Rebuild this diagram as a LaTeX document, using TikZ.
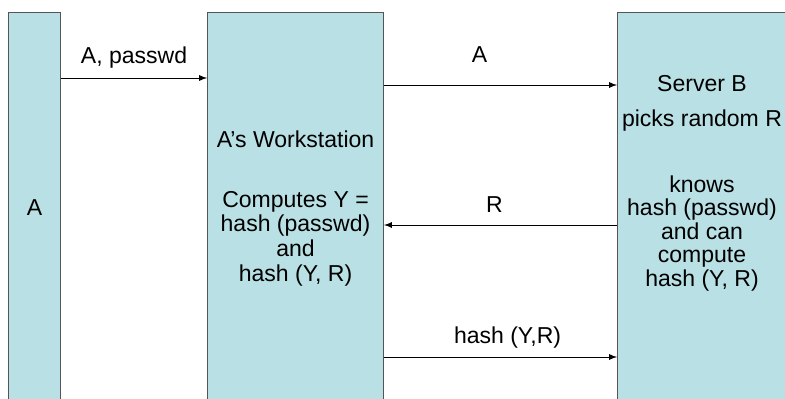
\documentclass[tikz,border=0pt]{standalone}
\usepackage{fontspec}
\setmainfont{Liberation Sans}
\usepackage{tikz}
\usetikzlibrary{arrows, positioning}
\definecolor{lanefill}{RGB}{185, 224, 228}
\definecolor{laneedge}{RGB}{85, 85, 85}

\begin{document}
\begin{tikzpicture}[
    every node/.style={font=\fontsize{13.1}{14.2}\selectfont},
    lane/.style={draw=laneedge, fill=lanefill, line width=0.6pt, inner sep=0pt,
        anchor=north west, minimum height=8.2cm},
    msg/.style={line width=0.55pt, ->, >=latex},
    lbl/.style={anchor=base, inner sep=0pt}
]

\useasboundingbox (0,0) rectangle (15.7,7.96);
\clip (0,0) rectangle (15.7,7.96);

% Columns
\node[lane, minimum width=1.04cm] (a) at (0.16,7.72) {};
\node[lane, minimum width=3.52cm] (w) at (4.14,7.72) {};
\node[lane, minimum width=3.44cm] (b) at (12.34,7.72) {};

% Column texts
\node (atext) at (a.center |- 0,3.8) {A};
\node[align=center] (wtext) at (w.center |- 0,3.79)
    {A’s Workstation\\[0.7cm] Computes Y =\\ hash (passwd)\\ and\\ hash (Y, R)};
\node[align=center, font=\fontsize{13.1}{13.4}\selectfont] (btext) at (14.04,4.30)
    {Server B\\[0.23cm] picks random R\\[0.85cm] knows\\ hash (passwd)\\ and can\\ compute\\ hash (Y, R)};

% Messages
\draw[msg] (a.east |- 0,6.4) -- (w.west |- 0,6.4)
    node[lbl, midway, yshift=0.29cm] (m1) {A, passwd};
\draw[msg] (w.east |- 0,6.26) -- (b.west |- 0,6.26)
    node[lbl, midway, xshift=-0.42cm, yshift=0.44cm] (m2) {A};
\draw[msg] (b.west |- 0,3.46) -- (w.east |- 0,3.46)
    node[lbl, midway, xshift=-0.12cm, yshift=0.25cm] (m3) {R};
\draw[msg] (w.east |- 0,0.82) -- (b.west |- 0,0.82)
    node[lbl, midway, xshift=0.14cm, yshift=0.28cm] (m4) {hash (Y,R)};

\end{tikzpicture}
\end{document}
